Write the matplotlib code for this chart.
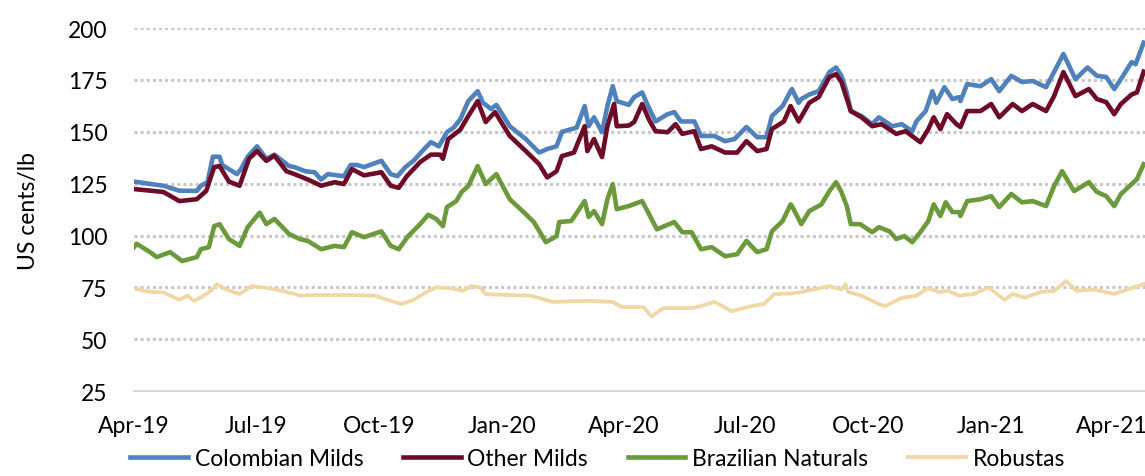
import matplotlib
matplotlib.use("Agg")
import matplotlib.pyplot as plt
import matplotlib.dates as mdates
import pandas as pd

plt.rcParams['font.family'] = ['Lato', 'DejaVu Sans']

# ---------------- data (US cents/lb) ----------------
cm_dates = ["2019-04-01","2019-04-23","2019-05-05","2019-05-18","2019-05-21","2019-05-26","2019-05-30",
 "2019-06-04","2019-06-06","2019-06-17","2019-06-20","2019-06-25","2019-07-02","2019-07-09","2019-07-15",
 "2019-07-26","2019-07-30","2019-08-07","2019-08-14","2019-08-19","2019-08-24","2019-09-05","2019-09-10",
 "2019-09-15","2019-09-20","2019-10-03","2019-10-10","2019-10-15","2019-10-21","2019-10-27","2019-11-04",
 "2019-11-09","2019-11-15","2019-11-21","2019-11-26","2019-12-01","2019-12-07","2019-12-14","2019-12-18",
 "2019-12-24","2019-12-28","2020-01-07","2020-01-19","2020-01-29","2020-02-04","2020-02-11","2020-02-15",
 "2020-02-26","2020-03-03","2020-03-06","2020-03-10","2020-03-16","2020-03-20","2020-03-24","2020-03-27",
 "2020-04-05","2020-04-09","2020-04-15","2020-04-19","2020-04-25","2020-05-04","2020-05-09","2020-05-14",
 "2020-05-24","2020-05-29","2020-06-08","2020-06-16","2020-06-23","2020-07-02","2020-07-10","2020-07-17",
 "2020-07-21","2020-07-29","2020-08-04","2020-08-05","2020-08-10","2020-08-12","2020-08-18","2020-08-25",
 "2020-09-02","2020-09-07","2020-09-11","2020-09-15","2020-09-18","2020-09-26","2020-10-04","2020-10-09",
 "2020-10-19","2020-10-26","2020-11-03","2020-11-06","2020-11-13","2020-11-18","2020-11-21","2020-11-27",
 "2020-12-03","2020-12-08","2020-12-09","2020-12-14","2020-12-24","2021-01-01","2021-01-07","2021-01-16",
 "2021-01-24","2021-02-01","2021-02-11","2021-02-17","2021-02-24","2021-03-05","2021-03-14","2021-03-21",
 "2021-03-28","2021-04-03","2021-04-08","2021-04-16","2021-04-19","2021-04-25"]
cm_values = [126,124,121.6,121.5,124,125.7,138,138,134,129.6,132,138,143,137,139,133.5,133,131,130.5,127,
 129.6,128.6,134,134,133,136,129.6,128.6,133,136,141.7,145,143,149.8,152,156,164.8,169.6,164,161,163,
 152.7,146.5,140,141.7,143,150,152,162.4,152.7,157,149.8,162.4,172,164.8,163,166.7,169,163,155,158.5,
 159.5,155,155,148,148,145.5,146.5,152.3,147.4,147.4,157.6,162.4,169.6,170.6,164,165.8,168,169.6,178.8,
 181,177,169,160,157.6,153.7,157,152.7,153.7,150.3,155,160,169.6,164,171.5,165.8,166.7,164.8,173,172,
 175.4,169.6,177,174,174.5,171.5,178.8,187.5,175.4,181,177,176.4,170.6,175.4,183.6,182.6,193]

om_dates = ["2019-04-01","2019-04-23","2019-05-05","2019-05-18","2019-05-25","2019-05-31","2019-06-04",
 "2019-06-11","2019-06-19","2019-06-26","2019-07-02","2019-07-09","2019-07-15","2019-07-24","2019-07-30",
 "2019-08-09","2019-08-19","2019-08-29","2019-09-05","2019-09-11","2019-09-20","2019-10-03","2019-10-10",
 "2019-10-16","2019-10-22","2019-11-01","2019-11-09","2019-11-16","2019-11-18","2019-11-22","2019-12-01",
 "2019-12-07","2019-12-14","2019-12-20","2019-12-27","2020-01-07","2020-01-19","2020-01-29","2020-02-04",
 "2020-02-11","2020-02-15","2020-02-24","2020-03-03","2020-03-05","2020-03-10","2020-03-16","2020-03-20",
 "2020-03-25","2020-03-27","2020-04-05","2020-04-09","2020-04-15","2020-04-20","2020-04-25","2020-05-04",
 "2020-05-10","2020-05-15","2020-05-24","2020-05-29","2020-06-06","2020-06-16","2020-06-25","2020-07-02",
 "2020-07-10","2020-07-17","2020-07-21","2020-07-30","2020-08-04","2020-08-10","2020-08-18","2020-08-25",
 "2020-09-02","2020-09-07","2020-09-11","2020-09-18","2020-09-26","2020-10-04","2020-10-11","2020-10-22",
 "2020-10-29","2020-11-09","2020-11-15","2020-11-19","2020-11-24","2020-11-29","2020-12-06","2020-12-09",
 "2020-12-14","2020-12-24","2021-01-01","2021-01-07","2021-01-17","2021-01-24","2021-02-01","2021-02-11",
 "2021-02-17","2021-02-24","2021-03-05","2021-03-15","2021-03-21","2021-03-28","2021-04-03","2021-04-08",
 "2021-04-16","2021-04-20","2021-04-25"]
om_values = [122.4,121,116.6,117.5,121.5,133,133.5,126,124,137,140.7,136,138.5,131,129.6,127,124,125.7,
 124.8,132,129,130.5,124,123,128.6,135.4,139,139,137,146.5,151,157.6,164.8,154.7,159.5,148,140.7,134.4,
 128,131,138.3,140,152.7,140.7,146.5,137.8,152.7,163.4,152.7,153,154.7,163.4,156,150.3,149.8,153.7,149,
 150.3,141.7,143,140,140,145.5,140.7,141.7,151.3,155,162.4,155,164,166.7,176.4,177.8,174,160,157,152.7,
 153.7,149,150.3,145,151.3,157,151.3,158.5,153.7,152.3,160,160,163.4,157,163.4,160,163.4,160,167.2,178.8,
 167.2,170.6,165.8,164.3,158.5,163.4,168,169,179]

bn_dates = ["2019-04-01","2019-04-03","2019-04-13","2019-04-18","2019-04-28","2019-05-07","2019-05-18",
 "2019-05-21","2019-05-27","2019-05-31","2019-06-04","2019-06-11","2019-06-19","2019-06-25","2019-07-04",
 "2019-07-09","2019-07-15","2019-07-26","2019-08-03","2019-08-09","2019-08-19","2019-08-29","2019-09-05",
 "2019-09-11","2019-09-20","2019-10-03","2019-10-10","2019-10-16","2019-10-23","2019-11-01","2019-11-07",
 "2019-11-13","2019-11-18","2019-11-21","2019-11-28","2019-12-02","2019-12-07","2019-12-14","2019-12-20",
 "2019-12-28","2020-01-07","2020-01-19","2020-01-25","2020-02-03","2020-02-11","2020-02-13","2020-02-22",
 "2020-03-03","2020-03-06","2020-03-10","2020-03-16","2020-03-20","2020-03-24","2020-03-27","2020-04-05",
 "2020-04-15","2020-04-22","2020-04-26","2020-05-09","2020-05-15","2020-05-22","2020-05-29","2020-06-06",
 "2020-06-16","2020-06-25","2020-07-02","2020-07-10","2020-07-17","2020-07-21","2020-07-29","2020-08-04",
 "2020-08-05","2020-08-12","2020-08-18","2020-08-27","2020-09-02","2020-09-07","2020-09-11","2020-09-15",
 "2020-09-18","2020-09-25","2020-10-04","2020-10-09","2020-10-17","2020-10-22","2020-10-28","2020-11-03",
 "2020-11-09","2020-11-15","2020-11-19","2020-11-24","2020-11-28","2020-12-03","2020-12-08","2020-12-09",
 "2020-12-14","2020-12-24","2021-01-01","2021-01-07","2021-01-16","2021-01-24","2021-02-01","2021-02-11",
 "2021-02-17","2021-02-23","2021-03-04","2021-03-15","2021-03-21","2021-03-28","2021-04-03","2021-04-08",
 "2021-04-16","2021-04-20","2021-04-25"]
bn_values = [94.4,96,92,89.6,92,87.7,89.6,93.4,94.4,104.5,105.5,98.3,95,104,111,105.5,108,100.7,98.3,97.4,
 93.4,95,94.4,101.6,99.2,102,95,93.4,99.7,105.5,110,108,104.5,113.7,116.6,121,123.8,133.5,124.8,129.6,
 117.5,110.3,106.5,96.8,99.7,106.5,107,116.6,109,111.8,105.5,117.5,124.8,112.7,114.2,116.6,108,103,106.5,
 101.6,101.6,93.4,94.4,90,91,97.4,92,93.4,102,107,115,114.2,105.5,111.8,115,121.4,125.7,121,114.2,105.5,
 105.5,101.6,104,102,98.3,99.7,96.8,101.6,107,115,109.4,116,111.3,111.3,109.4,116.6,117.5,119,113.7,120,
 116,116.6,114.2,123.8,131,121.4,125.7,121,119,114.2,120,124.8,127.2,134.4]

rb_dates = ["2019-04-01","2019-04-11","2019-04-23","2019-05-05","2019-05-11","2019-05-16","2019-05-27",
 "2019-06-02","2019-06-09","2019-06-19","2019-06-28","2019-07-11","2019-07-24","2019-07-30","2019-08-03",
 "2019-08-14","2019-08-29","2019-09-12","2019-09-28","2019-10-10","2019-10-18","2019-10-27","2019-11-06",
 "2019-11-13","2019-11-24","2019-12-03","2019-12-09","2019-12-16","2019-12-20","2020-01-07","2020-01-23",
 "2020-02-08","2020-03-04","2020-03-24","2020-03-31","2020-04-05","2020-04-16","2020-04-22","2020-05-01",
 "2020-05-22","2020-05-29","2020-06-08","2020-06-21","2020-07-06","2020-07-15","2020-07-23","2020-08-04",
 "2020-08-12","2020-09-02","2020-09-11","2020-09-14","2020-09-16","2020-09-26","2020-10-09","2020-10-14",
 "2020-10-26","2020-11-06","2020-11-15","2020-11-23","2020-11-30","2020-12-08","2020-12-19","2020-12-30",
 "2021-01-11","2021-01-17","2021-01-26","2021-02-07","2021-02-17","2021-02-26","2021-03-06","2021-03-19",
 "2021-04-03","2021-04-13","2021-04-25"]
rb_values = [74.6,73,72.5,69,71,68.5,72.5,76.5,74,71.8,75.6,74.6,72.8,71.8,71,71.3,71.3,71.3,71,68.5,67,69,
 72.8,75,74.6,73.3,75.6,75,71.8,71.3,71,68,68.5,68,65.5,65.5,65.5,61,65,65,66,68,63.5,66,67,71.8,72,72.8,
 75.6,74,76.5,72.8,71,67,66,70,71,74.6,72.8,73.3,71,71.8,75,69,71.8,70,72.8,73.3,78,73.3,74,71.8,74,76.5]

series_names = ["Colombian Milds", "Other Milds", "Brazilian Naturals", "Robustas"]
series_colors = ["#4F81BD", "#6E0B26", "#6A9A3A", "#EFD8A4"]
series_widths = [3.3, 3.3, 3.3, 2.7]
y_ticks = [25, 50, 75, 100, 125, 150, 175, 200]
x_ticks = ["2019-04-01", "2019-07-01", "2019-10-01", "2020-01-01", "2020-04-01",
           "2020-07-01", "2020-10-01", "2021-01-01", "2021-04-01"]

# ---------------- plot ----------------
fig = plt.figure(figsize=(11.45, 4.77), dpi=100)
ax = fig.add_axes([0.117, 0.178, 0.883, 0.761])

data = [(cm_dates, cm_values), (om_dates, om_values), (bn_dates, bn_values), (rb_dates, rb_values)]
for (d, v), name, col, lw in zip(data, series_names, series_colors, series_widths):
    ax.plot(pd.to_datetime(d), v, color=col, lw=lw, label=name, solid_joinstyle='round')

ax.set_ylim(25, 200)
ax.set_yticks(y_ticks)
ax.set_xlim(pd.Timestamp("2019-04-01"), pd.Timestamp("2021-04-26"))
ax.set_xticks(pd.to_datetime(x_ticks))
ax.xaxis.set_major_formatter(mdates.DateFormatter("%b-%y"))

for s in ["top", "right", "left"]:
    ax.spines[s].set_visible(False)
ax.spines["bottom"].set_color("#d9d9d9")
ax.spines["bottom"].set_linewidth(1.5)
ax.tick_params(axis="both", length=0, labelsize=16.5, colors="#000000")
ax.tick_params(axis="y", pad=19)
ax.tick_params(axis="x", pad=17)

ax.yaxis.grid(True, color="#c8c8c8", lw=2.2, linestyle=(0, (1, 1)))
ax.set_axisbelow(True)
gl = ax.get_ygridlines()
gl[0].set_visible(False)

ax.set_ylabel("US cents/lb", fontsize=16.5, labelpad=21)

fig.legend(loc="lower center", bbox_to_anchor=(0.522, -0.028), ncol=4, frameon=False,
           fontsize=16.5, handlelength=2.5, handletextpad=0.3, columnspacing=1.75)

fig.savefig("out.png", dpi=100)
